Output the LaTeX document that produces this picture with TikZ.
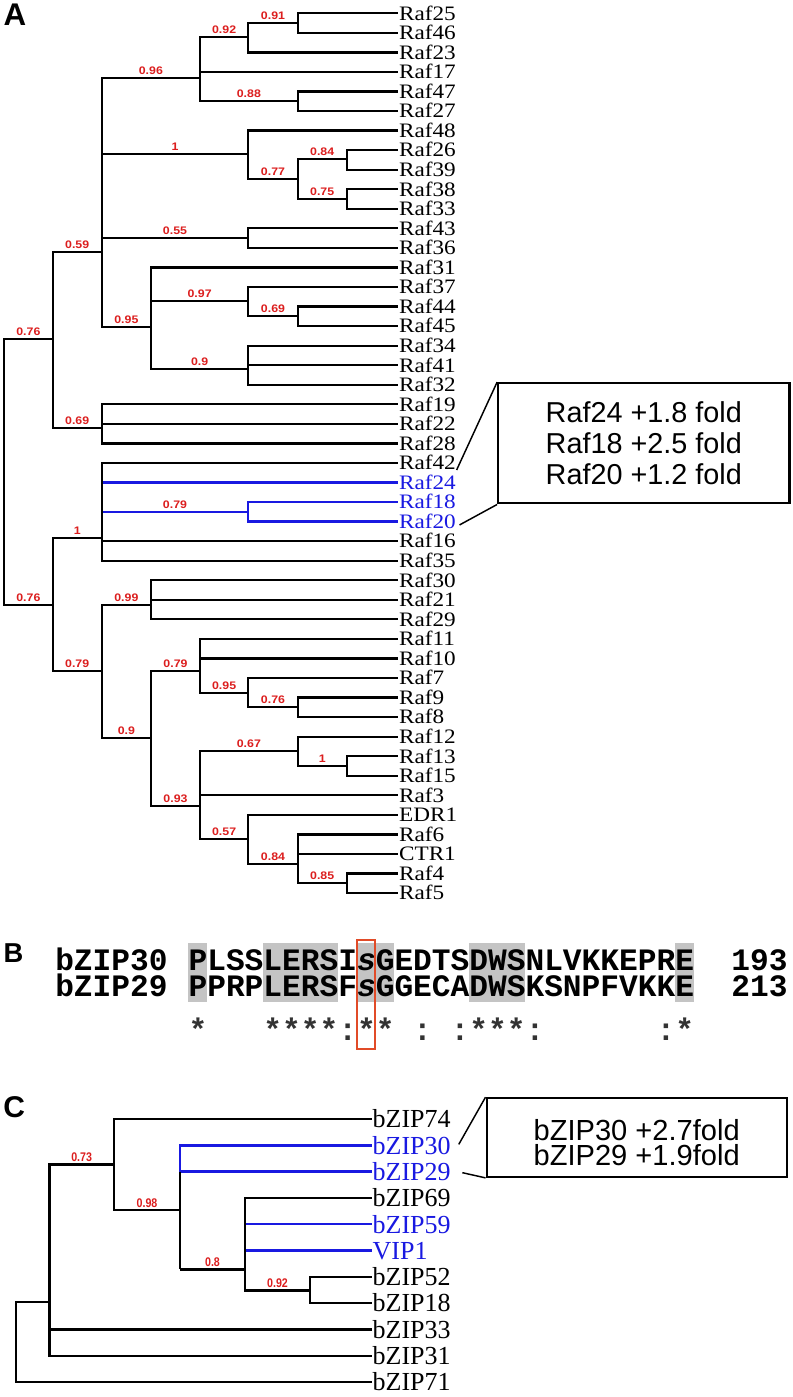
\documentclass[tikz,border=0pt]{standalone}
\usepackage{fontspec}
\usepackage{graphicx}
\setmainfont{Liberation Serif}
\newfontfamily\sansf{Liberation Sans}
\newfontfamily\monof{Liberation Mono}
\definecolor{blueT}{RGB}{25,25,225}
\definecolor{redL}{RGB}{220,30,30}
\definecolor{redBox}{RGB}{225,75,40}
\definecolor{grayHL}{RGB}{196,196,196}
\newcommand\sx[1]{\scalebox{1.13}[1]{#1}}
\newcommand\scC[1]{\scalebox{0.85}[1]{#1}}
\newcommand\treeH[3][]{\draw[treeln,#1] (#2 |- #3) -- (#3);}
\newcommand\treeV[4][]{\draw[treeln,line cap=rect,#1] (#2 |- #3) -- (#2 |- #4);}
\newcommand\treeC[5][]{\treeV[#1]{#2}{#3}{#4}\foreach \k in {#5}{\treeH[#1]{#2}{\k}}}
\newcommand\treeL[3]{\path (#1 |- #2) -- node[blab] {\sx{#3}} (#2);}
\newcommand\treeLC[3]{\path (#1 |- #2) -- node[blabC] {\scC{#3}} (#2);}
\newcommand\firstln{\rule{0pt}{19pt}}
\newcommand\tightls{\lineskiplimit-20pt\relax}
\begin{document}
\begin{tikzpicture}[x=0.75pt,y=-0.75pt,
  treeln/.style={line width=1.7pt},
  treelnC/.style={line width=1.8pt},
  blab/.style={anchor=base,yshift=2.6pt,inner sep=0pt,text=redL,font=\sansf\bfseries\fontsize{8.2}{9}\selectfont},
  blabC/.style={anchor=base,yshift=2pt,inner sep=0pt,text=redL,font=\sansf\bfseries\fontsize{9.4}{10}\selectfont},
  leafA/.style={anchor=west,inner sep=0pt,outer xsep=0.6pt,font=\fontsize{15.4}{16}\selectfont,text height=10.2pt,text depth=0pt},
  leafC/.style={anchor=west,inner sep=0pt,outer xsep=0.75pt,font=\fontsize{19.5}{20}\selectfont,text height=13.3pt,text depth=0pt},
  panel/.style={anchor=north west,inner sep=0pt,font=\sansf\bfseries},
  callout/.style={draw,line width=1.75pt,inner sep=0pt},
  calltext/.style={align=center,inner sep=0pt},
  conn/.style={line width=1.1pt},
  seq/.style={anchor=north west,inner sep=0pt,align=left,font=\monof\bfseries\fontsize{23.4}{20}\selectfont},
  cons/.style={anchor=base west,inner sep=0pt,text=black!80,font=\monof\bfseries\fontsize{23.4}{24}\selectfont}
]
\fill[white] (0,0) rectangle (793,1397);
\useasboundingbox (0,0) rectangle (793,1397);

% ---------------- Panel A ----------------
\node[panel,font=\sansf\bfseries\fontsize{23.5}{24}\selectfont] (labA) at (3.3,3.3) {A};
\foreach \n/\c [count=\i from 0] in {Raf25/black,Raf46/black,Raf23/black,Raf17/black,Raf47/black,Raf27/black,Raf48/black,Raf26/black,Raf39/black,Raf38/black,Raf33/black,Raf43/black,Raf36/black,Raf31/black,Raf37/black,Raf44/black,Raf45/black,Raf34/black,Raf41/black,Raf32/black,Raf19/black,Raf22/black,Raf28/black,Raf42/black,Raf24/blueT,Raf18/blueT,Raf20/blueT,Raf16/black,Raf35/black,Raf30/black,Raf21/black,Raf29/black,Raf11/black,Raf10/black,Raf7/black,Raf9/black,Raf8/black,Raf12/black,Raf13/black,Raf15/black,Raf3/black,EDR1/black,Raf6/black,CTR1/black,Raf4/black,Raf5/black}
  \node[leafA,text=\c] (\n) at (398.3,{13.3+19.55*\i}) {\sx{\n}};

\coordinate (a091) at (297.7,22.7);
\coordinate (a092) at (248.3,37.3);
\coordinate (a088) at (297.7,100.7);
\coordinate (a096) at (200,77.7);
\coordinate (a084) at (346.7,159);
\coordinate (a075) at (346.7,199);
\coordinate (a077) at (297.7,179.3);
\coordinate (a1a) at (248.3,154.3);
\coordinate (a055) at (248.3,237.7);
\coordinate (a069a) at (297.7,316);
\coordinate (a097) at (248.3,301);
\coordinate (a090) at (248.3,369.3);
\coordinate (a095) at (151,327.3);
\coordinate (a059) at (101.7,251.7);
\coordinate (a069b) at (101.7,428.3);
\coordinate (a076a) at (52.7,339.3);
\coordinate (a079a) at (248.3,511.7);
\coordinate (a1b) at (101.7,538.3);
\coordinate (a099) at (151,605);
\coordinate (a076c) at (297.7,707.3);
\coordinate (a095b) at (248.3,692.7);
\coordinate (a079c) at (200,670.7);
\coordinate (a1c) at (346.7,766);
\coordinate (a067) at (297.7,751);
\coordinate (a085) at (346.7,883.3);
\coordinate (a084b) at (297.7,864);
\coordinate (a057) at (248.3,839.3);
\coordinate (a093) at (200,806);
\coordinate (a09) at (151,738.3);
\coordinate (a079b) at (101.7,671);
\coordinate (a076b) at (52.7,605);
\coordinate (aroot) at (4,472);

% blue branches first
\treeV[blueT]{a079a}{Raf18}{Raf20}
\treeH[blueT]{a079a}{Raf18}
\treeH[blueT]{a079a}{Raf20}
\treeH[blueT]{a1b}{Raf24}
\treeH[blueT]{a1b}{a079a}

\treeC{a091}{Raf25}{Raf46}{Raf25,Raf46}
\treeC{a092}{a091}{Raf23}{a091,Raf23}
\treeC{a088}{Raf47}{Raf27}{Raf47,Raf27}
\treeC{a096}{a092}{a088}{a092,Raf17,a088}
\treeC{a084}{Raf26}{Raf39}{Raf26,Raf39}
\treeC{a075}{Raf38}{Raf33}{Raf38,Raf33}
\treeC{a077}{a084}{a075}{a084,a075}
\treeC{a1a}{Raf48}{a077}{Raf48,a077}
\treeC{a055}{Raf43}{Raf36}{Raf43,Raf36}
\treeC{a069a}{Raf44}{Raf45}{Raf44,Raf45}
\treeC{a097}{Raf37}{a069a}{Raf37,a069a}
\treeC{a090}{Raf34}{Raf32}{Raf34,Raf41,Raf32}
\treeC{a095}{Raf31}{a090}{Raf31,a097,a090}
\treeC{a059}{a096}{a095}{a096,a1a,a055,a095}
\treeC{a069b}{Raf19}{Raf28}{Raf19,Raf22,Raf28}
\treeC{a076a}{a059}{a069b}{a059,a069b}
\treeC{a1b}{Raf42}{Raf35}{Raf42,Raf16,Raf35}
\treeC{a099}{Raf30}{Raf29}{Raf30,Raf21,Raf29}
\treeC{a076c}{Raf9}{Raf8}{Raf9,Raf8}
\treeC{a095b}{Raf7}{a076c}{Raf7,a076c}
\treeC{a079c}{Raf11}{a095b}{Raf11,Raf10,a095b}
\treeC{a1c}{Raf13}{Raf15}{Raf13,Raf15}
\treeC{a067}{Raf12}{a1c}{Raf12,a1c}
\treeC{a085}{Raf4}{Raf5}{Raf4,Raf5}
\treeC{a084b}{Raf6}{a085}{Raf6,CTR1,a085}
\treeC{a057}{EDR1}{a084b}{EDR1,a084b}
\treeC{a093}{a067}{a057}{a067,Raf3,a057}
\treeC{a09}{a079c}{a093}{a079c,a093}
\treeC{a079b}{a099}{a09}{a099,a09}
\treeC{a076b}{a1b}{a079b}{a1b,a079b}
\treeC{aroot}{a076a}{a076b}{a076a,a076b}

\treeL{a092}{a091}{0.91}
\treeL{a096}{a092}{0.92}
\treeL{a059}{a096}{0.96}
\treeL{a096}{a088}{0.88}
\treeL{a059}{a1a}{1}
\treeL{a077}{a084}{0.84}
\treeL{a1a}{a077}{0.77}
\treeL{a077}{a075}{0.75}
\treeL{a059}{a055}{0.55}
\treeL{a076a}{a059}{0.59}
\treeL{a059}{a095}{0.95}
\treeL{a095}{a097}{0.97}
\treeL{a097}{a069a}{0.69}
\treeL{a095}{a090}{0.9}
\treeL{aroot}{a076a}{0.76}
\treeL{a076a}{a069b}{0.69}
\treeL{a1b}{a079a}{0.79}
\treeL{a076b}{a1b}{1}
\treeL{aroot}{a076b}{0.76}
\treeL{a079b}{a099}{0.99}
\treeL{a076b}{a079b}{0.79}
\treeL{a09}{a079c}{0.79}
\treeL{a079c}{a095b}{0.95}
\treeL{a095b}{a076c}{0.76}
\treeL{a079b}{a09}{0.9}
\treeL{a093}{a067}{0.67}
\treeL{a067}{a1c}{1}
\treeL{a09}{a093}{0.93}
\treeL{a093}{a057}{0.57}
\treeL{a057}{a084b}{0.84}
\treeL{a084b}{a085}{0.85}

\node[callout,minimum width=218.3pt,minimum height=90pt] (boxA) at (643.8,443.3) {};
\node[calltext,font=\sansf\fontsize{21.6}{23.25}\selectfont] (boxAtext) at (643.8,443.3)
  {Raf24 +1.8 fold\\Raf18 +2.5 fold\\Raf20 +1.2 fold};
\draw[conn] (Raf42.south east) -- (boxA.north west);
\draw[conn] ([xshift=2.2pt,yshift=-2.5pt]Raf20.east) -- (boxA.south west);

% ---------------- Panel B ----------------
\node[panel,font=\sansf\bfseries\fontsize{20.5}{21}\selectfont] (labB) at (3.3,943.3) {B};
\fill[grayHL] (188.3,943.3) rectangle (207.0,1001.7);
\fill[grayHL] (263.2,943.3) rectangle (338.0,1001.7);
\fill[grayHL] (356.7,943.3) rectangle (394.2,1001.7);
\fill[grayHL] (469.1,943.3) rectangle (525.2,1001.7);
\fill[grayHL] (675.0,943.3) rectangle (693.7,1001.7);
\node[seq] (names) at (55,944.67) {\firstln bZIP30\\bZIP29};
\node[seq] (seqs) at (188.3,944.67) {\firstln PLSSLERSI\textit{s}GEDTSDWSNLVKKEPRE\\PPRPLERSF\textit{s}GGECADWSKSNPFVKKE};
\node[seq] (ends) at (731.2,944.67) {\firstln 193\\213};
\foreach \col/\sym in {0/*,4/*,5/*,6/*,7/*,8/:,9/*,10/*,12/:,14/:,15/*,16/*,17/*,18/:,25/:,26/*}
  \node[cons] (cons\col) at ({188.3+18.72*\col},1040) {\sym};
\draw[redBox,line width=1.5pt] (356.7,940) rectangle (375.4,1049);

% ---------------- Panel C ----------------
\node[panel,font=\sansf\bfseries\fontsize{22.5}{23}\selectfont] (labC) at (3,1096.7) {C};
\foreach \n/\c [count=\i from 0] in {bZIP74/black,bZIP30/blueT,bZIP29/blueT,bZIP69/black,bZIP59/blueT,VIP1/blueT,bZIP52/black,bZIP18/black,bZIP33/black,bZIP31/black,bZIP71/black}
  \node[leafC,text=\c] (\n) at (371.7,{1119+26.3*\i}) {\n};

\coordinate (c092) at (310,1290.3);
\coordinate (c08) at (245,1269.3);
\coordinate (c098) at (180,1210);
\coordinate (c073) at (114,1164.5);
\coordinate (cin) at (49.3,1302.2);
\coordinate (croot) at (15.7,1342);

\treeH[treelnC,blueT]{c08}{bZIP59}
\treeH[treelnC,blueT]{c08}{VIP1}
\treeV[treelnC,blueT]{c098}{bZIP30}{bZIP29}
\treeH[treelnC,blueT]{c098}{bZIP30}
\treeH[treelnC,blueT]{c098}{bZIP29}
\draw[treeln,treelnC] (c098 |- bZIP29) -- (c098 |- c08);
\treeH[treelnC]{c098}{c08}
\treeC[treelnC]{c092}{bZIP52}{bZIP18}{bZIP52,bZIP18}
\treeC[treelnC]{c08}{bZIP69}{c092}{bZIP69,c092}
\treeC[treelnC]{c073}{bZIP74}{c098}{bZIP74,c098}
\treeC[treelnC]{cin}{c073}{bZIP31}{c073,bZIP33,bZIP31}
\treeC[treelnC]{croot}{cin}{bZIP71}{cin,bZIP71}

\treeLC{cin}{c073}{0.73}
\treeLC{c073}{c098}{0.98}
\treeLC{c098}{c08}{0.8}
\treeLC{c08}{c092}{0.92}

\node[callout,minimum width=225pt,minimum height=58.8pt] (boxC) at (636.7,1137.5) {};
\node[calltext,font=\sansf\fontsize{21.8}{18.75}\selectfont\tightls] (boxCtext) at (636.7,1142.5)
  {bZIP30 +2.7fold\\bZIP29 +1.9fold};
\draw[conn] ([xshift=5.3pt,yshift=0.7pt]bZIP30.east) -- (boxC.north west);
\draw[conn] ([xshift=8pt,yshift=-0.8pt]bZIP29.east) -- (boxC.south west);
\end{tikzpicture}
\end{document}
